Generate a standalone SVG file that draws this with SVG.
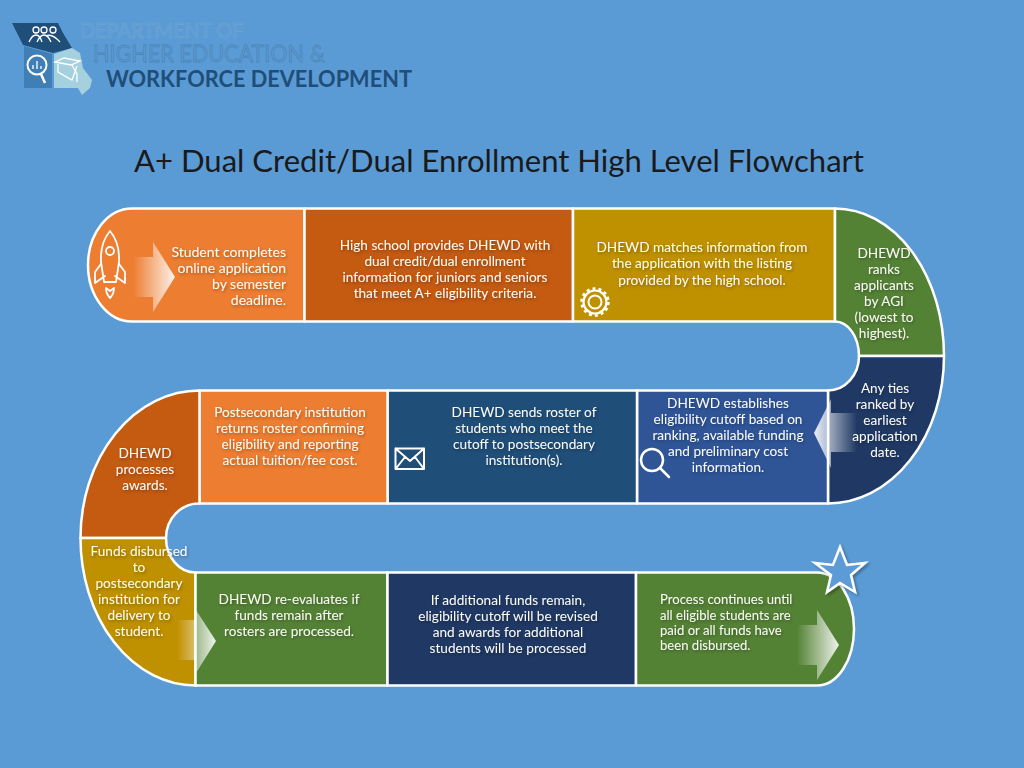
<svg xmlns="http://www.w3.org/2000/svg" width="1024" height="768" viewBox="0 0 1024 768">
<style>
.s{stroke:#fff;stroke-width:2.5;stroke-linejoin:round}
.t{font-family:"Lato","Liberation Sans",sans-serif;font-size:13.6px;fill:#fbfbf6;text-anchor:middle}
.r{text-anchor:end;font-size:14px}
.l{text-anchor:start;font-size:13.1px}
.i{fill:none;stroke:#fff;stroke-width:2;stroke-linejoin:round;stroke-linecap:round}
.lg{font-family:"Lato","Liberation Sans",sans-serif}
</style>
<defs>
<filter id="sh" x="-20%" y="-20%" width="140%" height="140%"><feDropShadow dx="1" dy="1.5" stdDeviation="1.6" flood-color="#000" flood-opacity=".32"/></filter>
<filter id="sh2" x="-30%" y="-30%" width="160%" height="160%"><feDropShadow dx="2" dy="2" stdDeviation="1.5" flood-color="#000" flood-opacity=".3"/></filter>
<linearGradient id="gr" x1="0" x2="1" y1="0" y2="0"><stop offset="0" stop-color="#fff" stop-opacity="0"/><stop offset="1" stop-color="#fff" stop-opacity=".9"/></linearGradient>
<linearGradient id="gl" x1="1" x2="0" y1="0" y2="0"><stop offset="0" stop-color="#fff" stop-opacity="0"/><stop offset="1" stop-color="#fff" stop-opacity=".9"/></linearGradient>
</defs>
<rect width="1024" height="768" fill="#5B9BD5"/>
<g id="logo">
<path d="M12 23H58L63 33L72 48L53 53L23 45Z" fill="#1F4E79"/>
<path d="M24 46L52 54V88H24Z" fill="#3F7FB5"/>
<path d="M54 54L72 48L80 53L83 68L92 80L90 88L82 95L78 88H54Z" fill="#A5D0DE"/>
<g fill="none" stroke="#fff" stroke-width="1.3"><circle cx="36" cy="30" r="3"/><circle cx="44" cy="30" r="3"/><circle cx="53" cy="30" r="3"/><path d="M29 42Q32 35 36 35Q40 35 42 42M37 42Q40 35 44 35Q48 35 51 42M46 36Q52 33 60 42"/>
<circle cx="37" cy="65" r="9.500" stroke-width="2"/><path d="M41 74L45 83" stroke-width="2.500"/><path d="M33 69V65M37 69V61M41 69V66"/>
<path d="M55 62L71 65L80 61L64 58ZM58 64V72L72 80L77 66M72 65L77 74V82"/></g>
<text class="lg" x="80" y="38" font-size="21" fill="none" stroke="#6FA5D3" stroke-width=".7" textLength="163" lengthAdjust="spacingAndGlyphs">DEPARTMENT OF</text>
<text class="lg" x="93" y="62" font-size="23" fill="none" stroke="#4C85B8" stroke-width=".8" textLength="232" lengthAdjust="spacingAndGlyphs">HIGHER EDUCATION &amp;</text>
<text class="lg" x="106" y="87" font-size="23" fill="#1F4E79" font-weight="700" textLength="306" lengthAdjust="spacingAndGlyphs">WORKFORCE DEVELOPMENT</text>
</g>
<text id="title" x="134" y="172" font-family="Lato,'Liberation Sans',sans-serif" font-size="31.500" fill="#1a1a1a" textLength="730" lengthAdjust="spacingAndGlyphs">A+ Dual Credit/Dual Enrollment High Level Flowchart</text>

<g id="n1"><path class="s" d="M304.500 208.500H132A44 56.500 0 0 0 132 321.500H304.500Z" fill="#ED7D31"/>
<text class="t r" filter="url(#sh)"><tspan x="286" y="257">Student completes</tspan><tspan x="286" y="273">online application</tspan><tspan x="286" y="289">by semester</tspan><tspan x="286" y="305">deadline.</tspan></text>
<g class="i" style="stroke-width:1.800"><path d="M110 231Q120 243 119 262L116 282H104L101 262Q100 243 110 231Z"/><circle cx="110" cy="251" r="4"/><path d="M101 264L95 272V283L105 276M119 264L125 272V283L115 276M105 282H115M106 288Q106 294 110 298Q114 294 114 288L110 291Z"/></g></g>
<g id="n2"><rect class="s" x="304.500" y="208.500" width="268.500" height="113" fill="#C55A11"/>
<text class="t" filter="url(#sh)"><tspan x="445" y="250">High school provides DHEWD with</tspan><tspan x="445" y="266">dual credit/dual enrollment</tspan><tspan x="445" y="282">information for juniors and seniors</tspan><tspan x="445" y="298">that meet A+ eligibility criteria.</tspan></text></g>
<g id="n3"><rect class="s" x="573" y="208.500" width="262" height="113" fill="#BF9000"/>
<text class="t" filter="url(#sh)"><tspan x="702" y="252">DHEWD matches information from</tspan><tspan x="702" y="268">the application with the listing</tspan><tspan x="702" y="285">provided by the high school.</tspan></text>
<g class="i"><circle cx="595" cy="302" r="6.500"/><circle cx="595" cy="302" r="11.500" style="stroke-width:2.2"/><circle cx="595" cy="302" r="13.500" style="stroke-width:2.5;stroke-dasharray:3 3.070;stroke-linecap:butt"/></g></g>
<g id="n4"><path class="s" d="M835 208.500A109 147.500 0 0 1 944 356H859A24 34.500 0 0 0 835 321.500Z" fill="#548235"/>
<text class="t" filter="url(#sh)"><tspan x="884" y="258">DHEWD</tspan><tspan x="884" y="274">ranks</tspan><tspan x="884" y="290">applicants</tspan><tspan x="884" y="306">by AGI</tspan><tspan x="884" y="322">(lowest to</tspan><tspan x="884" y="338">highest).</tspan></text></g>
<g id="n5"><path class="s" d="M944 356A116 147.500 0 0 1 828 503.500V390.500A31 34.500 0 0 0 859 356Z" fill="#1F3864"/>
<text class="t" filter="url(#sh)"><tspan x="885" y="393">Any ties</tspan><tspan x="885" y="409">ranked by</tspan><tspan x="885" y="425">earliest</tspan><tspan x="885" y="441">application</tspan><tspan x="885" y="457">date.</tspan></text></g>
<g id="n6"><rect class="s" x="637" y="390.500" width="191" height="113" fill="#2F5597"/>
<text class="t" filter="url(#sh)"><tspan x="728" y="408">DHEWD establishes</tspan><tspan x="728" y="424">eligibility cutoff based on</tspan><tspan x="728" y="440">ranking, available funding</tspan><tspan x="728" y="456">and preliminary cost</tspan><tspan x="728" y="472">information.</tspan></text>
<g class="i" style="stroke-width:2.500"><circle cx="652" cy="460" r="11"/><path d="M660 468L669 477"/></g></g>
<g id="n7"><rect class="s" x="387.500" y="390.500" width="249.500" height="113" fill="#1F4E79"/>
<text class="t" filter="url(#sh)"><tspan x="524" y="417">DHEWD sends roster of</tspan><tspan x="524" y="433">students who meet the</tspan><tspan x="524" y="449">cutoff to postsecondary</tspan><tspan x="524" y="465">institution(s).</tspan></text>
<g class="i"><path d="M395.500 448.500H424V469H395.500ZM395.500 448.500L410 461L424 448.500M395.500 469L405 457M424 469L415 457"/></g></g>
<g id="n8"><rect class="s" x="199.500" y="390.500" width="188" height="113" fill="#ED7D31"/>
<text class="t" filter="url(#sh)"><tspan x="290" y="417">Postsecondary institution</tspan><tspan x="290" y="433">returns roster confirming</tspan><tspan x="290" y="449">eligibility and reporting</tspan><tspan x="290" y="465">actual tuition/fee cost.</tspan></text></g>
<g id="n9"><path class="s" d="M199.500 390.500V503.500A33 34.500 0 0 0 166 538H80.500A119 147.500 0 0 1 199.500 390.500Z" fill="#C55A11"/>
<text class="t" filter="url(#sh)"><tspan x="145" y="458">DHEWD</tspan><tspan x="145" y="474">processes</tspan><tspan x="145" y="490">awards.</tspan></text></g>
<g id="n10"><path class="s" d="M80.500 538H166A29.500 34.500 0 0 0 195.500 572.500V685.500A115 147.500 0 0 1 80.500 538Z" fill="#BF9000"/></g>
<g id="n11"><rect class="s" x="195.500" y="572.500" width="192" height="113" fill="#548235"/>
<text class="t" filter="url(#sh)"><tspan x="289" y="604">DHEWD re-evaluates if</tspan><tspan x="289" y="620">funds remain after</tspan><tspan x="289" y="636">rosters are processed.</tspan></text></g>
<g id="n12"><rect class="s" x="387.500" y="572.500" width="248.500" height="113" fill="#1F3864"/>
<text class="t" filter="url(#sh)"><tspan x="508" y="605">If additional funds remain,</tspan><tspan x="508" y="621">eligibility cutoff will be revised</tspan><tspan x="508" y="637">and awards for additional</tspan><tspan x="508" y="653">students will be processed</tspan></text></g>
<g id="n13"><path class="s" d="M636 572.500H817A37 56.500 0 0 1 817 685.500H636Z" fill="#548235"/>
<text class="t l" filter="url(#sh)"><tspan x="660" y="604">Process continues until</tspan><tspan x="660" y="620">all eligible students are</tspan><tspan x="660" y="635">paid or all funds have</tspan><tspan x="660" y="650">been disbursed.</tspan></text></g>
<text class="t" filter="url(#sh)"><tspan x="139" y="556">Funds disbursed</tspan><tspan x="139" y="572">to</tspan><tspan x="139" y="588">postsecondary</tspan><tspan x="139" y="604">institution for</tspan><tspan x="139" y="620">delivery to</tspan><tspan x="139" y="636">student.</tspan></text>
<g id="connectors">
<path d="M133 257H153V242L175 277L153 312V297H133Z" fill="url(#gr)"/>
<path d="M857 413H831V399L814 433L831 468V452H857Z" fill="url(#gl)"/>
<path d="M177 620H196V610L216 641L196 673V660H177Z" fill="url(#gr)"/>
<path d="M797 625H817V610L839 645L817 680V665H797Z" fill="url(#gr)"/>
</g>
<path id="star" d="M840 547L847 565L865 563L851 575L855 592L840 583L827 592L831 575L815 563L833 565Z" fill="#5B9BD5" stroke="#fff" stroke-width="2.5" stroke-linejoin="miter" filter="url(#sh2)"/>
</svg>
